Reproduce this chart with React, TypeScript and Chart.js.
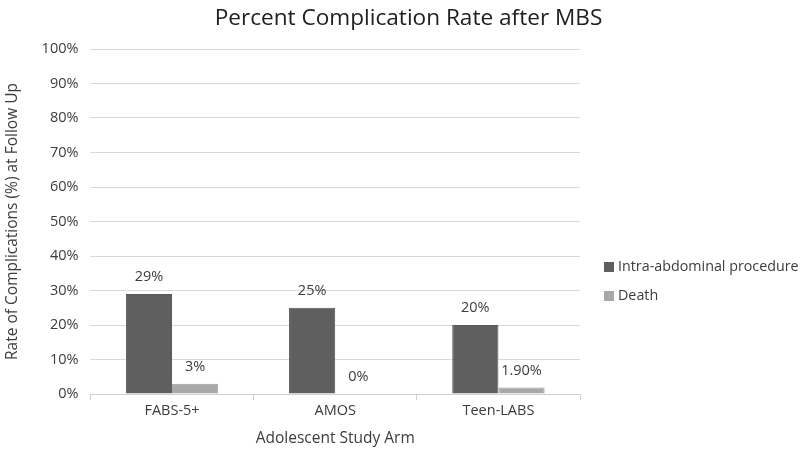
import React, { useEffect, useRef } from "react";
import { Chart, registerables } from "chart.js";

Chart.register(...registerables);

const chartTitle = "Percent Complication Rate after MBS";
const categories = ["FABS-5+", "AMOS", "Teen-LABS"];
const seriesNames = ["Intra-abdominal procedure", "Death"];
const intraAbdominal = [29, 25, 20];
const death = [3, 0, 1.9];
const intraLabels = ["29%", "25%", "20%"];
const deathLabels = ["3%", "0%", "1.90%"];
const yTicks = [0, 10, 20, 30, 40, 50, 60, 70, 80, 90, 100];

const FONT = "'Open Sans', 'Noto Sans', sans-serif";
const TEXT = "#3c3c3c";

const titlePlugin = {
  id: "customTitle",
  afterDraw(chart: any) {
    const ctx = chart.ctx;
    ctx.save();
    ctx.font = `22.6px ${FONT}`;
    ctx.fillStyle = "#202020";
    ctx.textAlign = "center";
    ctx.textBaseline = "middle";
    ctx.fillText(chartTitle, chart.width / 2 + 5, 19);
    ctx.restore();
  },
};

const labelPlugin = {
  id: "barLabels",
  afterDatasetsDraw(chart: any) {
    const ctx = chart.ctx;
    const all = [intraLabels, deathLabels];
    ctx.save();
    ctx.font = `14.5px ${FONT}`;
    ctx.fillStyle = TEXT;
    ctx.textAlign = "center";
    ctx.textBaseline = "middle";
    chart.data.datasets.forEach((ds: any, di: number) => {
      const meta = chart.getDatasetMeta(di);
      meta.data.forEach((bar: any, i: number) => {
        ctx.fillText(all[di][i], bar.x, bar.y - 17);
      });
    });
    ctx.restore();
  },
};

const legendPlugin = {
  id: "customLegend",
  afterDraw(chart: any) {
    const ctx = chart.ctx;
    const area = chart.chartArea;
    const x = area.right + 24;
    const y0 = 267;
    ctx.save();
    ctx.font = `14.3px ${FONT}`;
    ctx.textBaseline = "middle";
    ctx.textAlign = "left";
    chart.data.datasets.forEach((ds: any, i: number) => {
      const y = y0 + i * 29;
      ctx.fillStyle = ds.backgroundColor;
      ctx.fillRect(x, y - 5, 10, 10);
      ctx.fillStyle = TEXT;
      ctx.fillText(ds.label, x + 14, y);
    });
    ctx.restore();
  },
};

export default function App() {
  const ref = useRef<HTMLCanvasElement>(null);
  useEffect(() => {
    document.body.style.margin = "0";
    const chart = new Chart(ref.current!, {
      type: "bar",
      data: {
        labels: categories,
        datasets: [
          {
            label: seriesNames[0],
            data: intraAbdominal,
            backgroundColor: "#5f5f5f",
            borderColor: "#555555",
            borderWidth: 1,
          },
          {
            label: seriesNames[1],
            data: death,
            backgroundColor: "#a8a8a8",
            borderColor: "#a0a0a0",
            borderWidth: 1,
          },
        ],
      },
      options: {
        animation: false,
        responsive: false,
        maintainAspectRatio: false,
        layout: { padding: { left: 3, right: 227, top: 49, bottom: 4 } },
        datasets: { bar: { categoryPercentage: 0.566, barPercentage: 1.0 } },
        plugins: {
          legend: { display: false },
          tooltip: { enabled: false },
          title: { display: false },
        },
        scales: {
          x: {
            offset: true,
            grid: {
              display: true,
              drawOnChartArea: false,
              offset: true,
              tickLength: 6,
              color: "#d0d0d0",
            },
            border: { color: "#d0d0d0" },
            ticks: {
              color: TEXT,
              font: { family: FONT, size: 14.5 },
              padding: 2,
            },
            title: {
              display: true,
              text: "Adolescent Study Arm",
              color: TEXT,
              font: { family: FONT, size: 15.5 },
              padding: { top: 8, bottom: 0 },
            },
          },
          y: {
            min: 0,
            max: 100,
            afterBuildTicks: (axis: any) => {
              axis.ticks = yTicks.map((v) => ({ value: v }));
            },
            grid: { color: "#d9d9d9", drawTicks: false },
            border: { display: false },
            ticks: {
              color: TEXT,
              font: { family: FONT, size: 14.5 },
              padding: 12,
              callback: (v: any) => `${v}%`,
            },
            title: {
              display: true,
              text: "Rate of Complications (%) at Follow Up",
              color: TEXT,
              font: { family: FONT, size: 15.5 },
              padding: { top: 0, bottom: 8 },
            },
          },
        },
      },
      plugins: [titlePlugin, labelPlugin, legendPlugin],
    });
    return () => chart.destroy();
  }, []);
  return <canvas ref={ref} width={807} height={452} style={{ display: "block" }} />;
}
